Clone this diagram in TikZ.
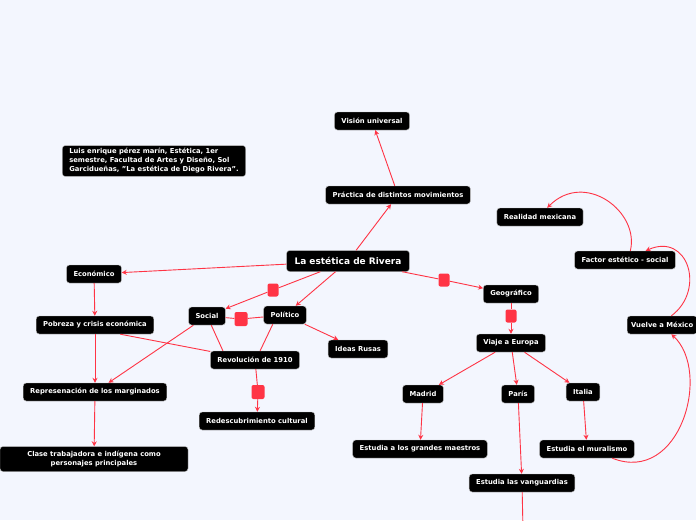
\documentclass[tikz,border=0pt]{standalone}
\usepackage{fontspec}
\setmainfont{DejaVu Sans}
\usetikzlibrary{arrows.meta}

\definecolor{canvas}{HTML}{F3F6FE}
\definecolor{linkred}{HTML}{FF3445}

\tikzset{
    topic/.style={fill=black, draw=gray!50, line width=0.4pt, rounded corners=3pt,
        text=white, font=\bfseries\fontsize{6.8}{9}\selectfont,
        minimum height=18pt, inner xsep=7pt, inner ysep=2pt},
    hub/.style={fill=linkred, rounded corners=2pt, minimum width=11pt,
        minimum height=13pt, inner sep=0pt},
    link/.style={draw=linkred, line width=0.9pt},
    arrow/.style={link, -{Stealth[length=5pt, width=5pt]}}
}

\begin{document}
\begin{tikzpicture}[x=1pt, y=-1pt]
    \useasboundingbox (0,0) rectangle (696,520);
    \fill[canvas] (0,0) rectangle (696,520);

    % Reference note
    \node[topic, align=left, inner ysep=3pt] (note) at (154,161)
        {Luis enrique pérez marín, Estética, 1er\\semestre, Facultad de Artes y Diseño, Sol\\Garcidueñas, "La estética de Diego Rivera".};

    % Central topic
    \node[topic, font=\bfseries\fontsize{9}{10}\selectfont, minimum height=21pt, inner xsep=8pt] (rivera) at (348,261) {La estética de Rivera};

    % Upper branch
    \node[topic] (practica) at (398,195) {Práctica de distintos movimientos};
    \node[topic] (vision) at (372,121) {Visión universal};

    % Left branch
    \node[topic] (economico) at (94,274) {Económico};
    \node[topic] (pobreza) at (95,325) {Pobreza y crisis económica};
    \node[topic] (repres) at (95,392) {Represenación de los marginados};
    \node[topic, align=center, minimum width=188pt, minimum height=25pt, inner ysep=1pt] (clase) at (94,459)
        {Clase trabajadora e indígena como\\personajes principales};
    \node[topic] (social) at (207,316) {Social};
    \node[topic] (politico) at (285,315) {Político};
    \node[topic] (revol) at (255,360) {Revolución de 1910};
    \node[topic] (rusas) at (358,349) {Ideas Rusas};
    \node[topic] (redesc) at (257,421) {Redescubrimiento cultural};

    % Right branch
    \node[topic] (geo) at (511,294) {Geográfico};
    \node[topic] (viaje) at (511,343) {Viaje a Europa};
    \node[topic] (madrid) at (423,394) {Madrid};
    \node[topic] (paris) at (518,394) {París};
    \node[topic] (italia) at (583,392) {Italia};
    \node[topic] (maestros) at (420,449) {Estudia a los grandes maestros};
    \node[topic] (vanguard) at (522,483) {Estudia las vanguardias};
    \node[topic] (mural) at (587,449) {Estudia el muralismo};
    \node[topic, anchor=west, inner xsep=4pt] (vuelve) at (627,325) {Vuelve a México};
    \node[topic] (factor) at (625,260) {Factor estético - social};
    \node[topic] (realidad) at (540,217) {Realidad mexicana};
    \coordinate (below) at (523,530);

    % Relation hubs
    \node[hub] (hubsoc) at (273,290) {};
    \node[hub, minimum width=13pt, minimum height=14pt] (hubpol) at (241,319) {};
    \node[hub, minimum width=13pt, minimum height=14pt] (hubrev) at (258,392) {};
    \node[hub] (hubgeo) at (444,280) {};
    \node[hub] (hubeur) at (511,316) {};

    % Connectors from the centre
    \draw[arrow] (rivera) -- (practica);
    \draw[arrow] (practica) -- (vision);
    \draw[arrow] (rivera) -- (economico);
    \draw[link] (rivera) -- (hubsoc);
    \draw[arrow] (hubsoc) -- (social);
    \draw[arrow] (rivera) -- (politico);
    \draw[link] (rivera) -- (hubgeo);
    \draw[arrow] (hubgeo) -- (geo);

    % Left side
    \draw[arrow] (economico) -- (pobreza);
    \draw[arrow] (pobreza) -- (repres);
    \draw[arrow] (repres) -- (clase);
    \draw[arrow] (social) -- (repres);
    \draw[link] (pobreza.-20) -- (revol);
    \draw[link] (social) -- (hubpol) -- (politico);
    \draw[link] (social.-65) -- (revol.164);
    \draw[link] (politico.-143) -- (revol.61);
    \draw[arrow] (politico) -- (rusas);
    \draw[link] (revol) -- (hubrev);
    \draw[arrow] (hubrev) -- (redesc);

    % Right side
    \draw[link] (geo) -- (hubeur);
    \draw[arrow] (hubeur) -- (viaje);
    \draw[arrow] (viaje) -- (madrid);
    \draw[arrow] (viaje) -- (paris);
    \draw[arrow] (viaje) -- (italia);
    \draw[arrow] (madrid) -- (maestros);
    \draw[arrow] (paris) -- (vanguard);
    \draw[arrow] (italia) -- (mural);
    \draw[link] (vanguard) -- (below);

    % Curved return path
    \draw[arrow] (mural.-20) .. controls (680,485) and (712,372) .. (vuelve.-45);
    \draw[arrow] (vuelve.45) .. controls (706,290) and (688,232) .. (factor.24);
    \draw[arrow] (factor.60) .. controls (640,212) and (585,170) .. (realidad.52);
\end{tikzpicture}
\end{document}
